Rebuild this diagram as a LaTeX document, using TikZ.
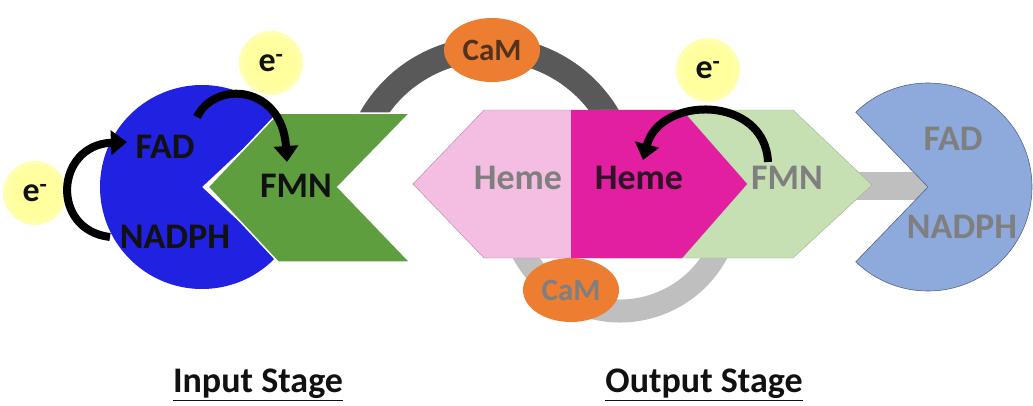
\documentclass[tikz,border=0pt]{standalone}
\usepackage{fontspec}
\setmainfont{Carlito}
\usetikzlibrary{
  arrows.meta,
  positioning,
  shapes.geometric,
  calc
}
\definecolor{nosblue}{HTML}{2121E2}
\definecolor{nosgreen}{HTML}{5E9E3E}
\definecolor{nospink}{HTML}{F4BEE2}
\definecolor{nosmagenta}{HTML}{E11FA0}
\definecolor{noslightgreen}{HTML}{C6E0B4}
\definecolor{noslightblue}{HTML}{8EA9DB}
\definecolor{nosorange}{HTML}{ED7D31}
\definecolor{nosdarkgray}{HTML}{595959}
\definecolor{noslightgray}{HTML}{BFBFBF}
\definecolor{nosfaded}{HTML}{7F7F7F}
\definecolor{nosglow}{HTML}{FFFF9E}
\definecolor{nosink}{HTML}{111111}
\pgfdeclareradialshading{eglow}{\pgfpoint{0bp}{0bp}}{%
  color(0bp)=(nosglow); color(18bp)=(nosglow); color(36bp)=(nosglow!45); color(50bp)=(white)}

\begin{document}
\begin{tikzpicture}[
      x=1pt, y=-1pt,
      label/.style={
        inner sep=0pt, font=\fontsize{36}{42}\selectfont\bfseries\color{nosink}
      },
      faded/.style={label, font=\fontsize{36}{42}\selectfont\bfseries\color{nosfaded}},
      cam/.style={
        ellipse, minimum width=96pt, minimum height=64pt, inner sep=0pt,
        fill=nosorange, font=\fontsize{31}{36}\selectfont\bfseries
      },
      glow/.style={shading=eglow},
      elec/.style={inner sep=0pt, font=\fontsize{34}{40}\selectfont\bfseries\color{nosink}},
      arrow/.style={-{Triangle[length=16pt, width=24pt]}, line width=8pt, black},
      stage/.style={font=\fontsize{36}{42}\selectfont\bfseries\color{nosink}}
    ]
      \useasboundingbox (0,0) rectangle (1033,405);

      % CaM linkers
      \draw[nosdarkgray, line width=25pt] (490,186) ++(-152:137) arc[start angle=-152, end angle=-28, radius=137];
      \draw[noslightgray, line width=23pt] (620,201) ++(25:110) arc[start angle=25, end angle=155, radius=110];

      % Output stage: FMN / FAD link
      \fill[noslightgray] (850,172) rectangle (940,200);
      \filldraw[fill=noslightgreen, draw=noslightgreen!80!black, line width=0.4pt]
        (600,110) -- (793,110) -- (872,185) -- (793,258) -- (600,258) -- cycle;

      % Output stage: heme domains
      \filldraw[fill=nospink, draw=nospink!70!black, line width=0.4pt]
        (413,184) -- (484,110) -- (682,110) -- (747,184) -- (682,258) -- (484,258) -- cycle;
      \begin{scope}
        \clip (571,100) rectangle (760,270);
        \fill[nosmagenta] (413,184) -- (484,110) -- (682,110) -- (747,184) -- (682,258) -- (484,258) -- cycle;
      \end{scope}

      % Output stage: reductase
      \filldraw[fill=noslightblue, draw=noslightblue!60!black, line width=0.6pt]
        (928,187) -- ++(-134:104) arc[start angle=-134, end angle=134, radius=104] -- cycle;

      % Input stage: reductase
      \fill[nosblue] (202,187) -- ++(43:102) arc[start angle=43, end angle=317, radius=102] -- cycle;
      \filldraw[fill=nosgreen, draw=white, line width=1.5pt]
        (208,187) -- (278,113) -- (410,113) -- (338,187) -- (410,262) -- (278,262) -- cycle;

      % CaM
      \node[cam, text=nosink!70!nosorange] (camTop) at (492,50) {CaM};
      \node[cam, text=nosfaded] (camBottom) at (571,290) {CaM};

      % Labels
      \node[label] (fadIn) at (165,147) {FAD};
      \node[label] (nadphIn) at (175,237) {NADPH};
      \node[label] (fmnIn) at (296,186) {FMN};
      \node[faded] (hemeFaded) at (518,178) {Heme};
      \node[label, text=nosink!85!nosmagenta] (heme) at (639,178) {Heme};
      \node[faded] (fmnOut) at (787,178) {FMN};
      \node[faded] (fadOut) at (953,139) {FAD};
      \node[faded] (nadphOut) at (962,227) {NADPH};

      % Electrons
      \shade[glow] (35,193) circle (32);
      \node[elec] (eLeft) at (35,193) {e\textsuperscript{-}};
      \shade[glow] (271,63) circle (32);
      \node[elec] (eTop) at (271,63) {e\textsuperscript{-}};
      \shade[glow] (708,70) circle (32);
      \node[elec] (eOut) at (708,70) {e\textsuperscript{-}};

      % Electron transfer
      \coordinate (nadphStart) at (110,237);
      \coordinate (fadEnd) at (127,142);
      \coordinate (fadStart) at (197,117);
      \coordinate (fmnEnd) at (287,162);
      \coordinate (fmnStart) at (768,162);
      \coordinate (hemeEnd) at (643,160);
      \draw[arrow] (nadphStart) .. controls (50,230) and (55,145) .. (fadEnd);
      \draw[arrow] (fadStart) .. controls (215,80) and (282,85) .. (fmnEnd);
      \draw[arrow] (fmnStart) .. controls (765,95) and (660,95) .. (hemeEnd);

      % Stages
      \node[stage] (inputStage) at (258,385) {\underline{Input Stage}};
      \node[stage] (outputStage) at (704,385) {\underline{Output Stage}};
    \end{tikzpicture}
\end{document}
